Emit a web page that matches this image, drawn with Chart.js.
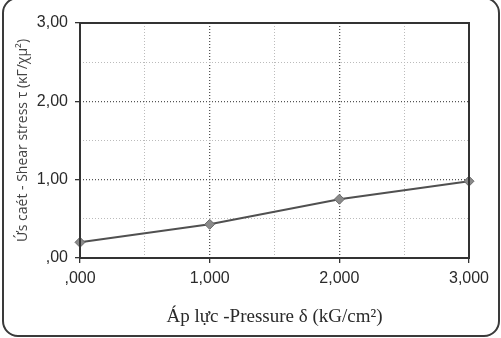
<!DOCTYPE html>
<html>
<head>
<meta charset="utf-8">
<script src="https://cdn.jsdelivr.net/npm/chart.js@4/dist/chart.umd.min.js"></script>
<style>
  body { margin: 0; background: #fff; }
  #wrap { position: relative; width: 501px; height: 338px; overflow: hidden; }
  #frame {
    position: absolute; left: 2px; top: -3px; width: 494px; height: 336px;
    border: 2px solid #3a3a3a; border-radius: 16px; pointer-events: none;
  }
</style>
</head>
<body>
<div id="wrap">
  <canvas id="shearChart" width="501" height="338"></canvas>
  <div id="frame"></div>
</div>
<script>
// Áp lực (kG/cm2) và ứng suất cắt
const pressure = [0, 1, 2, 3];
const shearStress = [0.20, 0.43, 0.75, 0.98];

const xTitle = "Áp lực -Pressure δ (kG/cm²)";
const yTitle = "Ứs caét - Shear stress τ (κΓ/χμ²)";

// khung vùng vẽ (viền liền)
const frameBox = {
    id: 'frameBox',
    afterDraw(chart) {
        const a = chart.chartArea;
        const c = chart.ctx;
        c.save();
        c.strokeStyle = '#333';
        c.lineWidth = 2;
        c.strokeRect(a.left, a.top, a.right - a.left, a.bottom - a.top);
        c.restore();
    }
};

const isMajor = v => Math.abs(v - Math.round(v)) < 1e-6;

const ctx = document.getElementById('shearChart').getContext('2d');

const chart = new Chart(ctx, {
    type: 'line',
    data: {
        datasets: [{
            data: pressure.map((p, i) => ({ x: p, y: shearStress[i] })),
            borderColor: '#505050',
            borderWidth: 2,
            pointStyle: 'rectRot',
            pointRadius: 5,
            pointBackgroundColor: '#8a8a8a',
            pointBorderColor: '#6a6a6a',
            pointBorderWidth: 1,
            tension: 0,
            clip: false
        }]
    },
    options: {
        responsive: false,
        animation: false,
        layout: { padding: { left: 8, right: 32, top: 23, bottom: 6 } },
        plugins: { legend: { display: false }, tooltip: { enabled: false } },
        scales: {
            x: {
                type: 'linear',
                min: 0,
                max: 3,
                afterFit: s => { s.height = 74; },
                ticks: {
                    stepSize: 0.5,
                    autoSkip: false,
                    maxRotation: 0,
                    padding: 6,
                    color: '#2a2a2a',
                    font: { family: 'Liberation Sans', size: 16 },
                    callback: v => isMajor(v) ? (v === 0 ? ',000' : v + ',000') : ''
                },
                grid: {
                    drawOnChartArea: true,
                    tickLength: 5,
                    color: c => isMajor(c.tick.value) ? '#555' : '#bbb',
                    tickColor: c => isMajor(c.tick.value) ? '#333' : 'rgba(0,0,0,0)',
                    lineWidth: c => isMajor(c.tick.value) ? 1.3 : 1
                },
                border: { display: false, dash: [1, 2] },
                title: {
                    display: true,
                    text: xTitle,
                    color: '#2a2a2a',
                    font: { family: 'Liberation Serif', size: 19 },
                    padding: { top: 10 }
                }
            },
            y: {
                min: 0,
                max: 3,
                afterFit: s => { s.width = 72; },
                ticks: {
                    stepSize: 0.5,
                    autoSkip: false,
                    padding: 7,
                    color: '#2a2a2a',
                    font: { family: 'Liberation Sans', size: 16 },
                    callback: v => isMajor(v) ? (v === 0 ? ',00' : v + ',00') : ''
                },
                grid: {
                    tickLength: 5,
                    color: c => isMajor(c.tick.value) ? '#555' : '#bbb',
                    tickColor: c => isMajor(c.tick.value) ? '#333' : 'rgba(0,0,0,0)',
                    lineWidth: c => isMajor(c.tick.value) ? 1.3 : 1
                },
                border: { display: false, dash: [1, 2] },
                title: {
                    display: true,
                    text: yTitle,
                    color: '#444',
                    font: { family: 'Open Sans', size: 14 },
                    padding: { top: 7, bottom: 0 }
                }
            }
        }
    },
    plugins: [frameBox]
});
</script>
</body>
</html>
